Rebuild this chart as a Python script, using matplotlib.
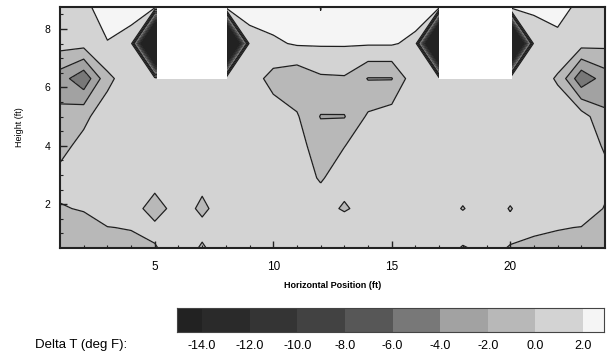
import matplotlib
matplotlib.use("Agg")
import matplotlib.pyplot as plt
import numpy as np
from matplotlib.colors import ListedColormap, BoundaryNorm
from matplotlib.patches import Rectangle

plt.rcParams['font.family'] = ['Liberation Sans', 'DejaVu Sans']

# measurement grid (ft)
x_pos = [1, 2, 3, 4, 5, 6, 7, 8, 9, 10, 11, 12, 13, 14, 15, 16, 17, 18, 19, 20, 21, 22, 23, 24]
y_pos = [0.5, 1.2, 1.85, 2.9, 4.0, 5.0, 6.3, 7.5, 8.75]

# delta T (deg F), one row per height
dt_050 = [-1.2, -1.0, -0.8, -0.6, -0.15, 1.0, -0.2, 1.0, 1.0, 1.0, 1.0, 1.0, 1.0, 1.0, 1.0, 1.0, 1.0, -0.15, 0.5, -0.1, -0.4, -0.6, -0.9, -1.2]
dt_120 = [-0.8, -0.5, -0.05, 0.1, 0.5, 1.0, 0.5, 1.0, 1.0, 1.0, 1.0, 1.0, 1.5, 1.0, 1.0, 1.0, 1.0, 1.0, 1.0, 0.5, 0.3, 0.1, -0.05, -0.8]
dt_185 = [-0.1, 0.1, 1.0, 1.0, -1.0, 1.0, -0.4, 1.0, 1.0, 1.0, 1.0, 1.0, -0.3, 1.0, 1.0, 1.0, 1.0, -0.1, 1.0, -0.1, 1.0, 1.0, 1.0, -0.1]
dt_290 = [0.45, 1.0, 1.0, 1.0, 1.0, 1.0, 0.6, 1.0, 1.0, 1.0, 1.0, -0.2, 1.0, 1.0, 1.0, 1.0, 1.0, 1.0, 1.0, 1.0, 1.0, 1.0, 1.0, 0.5]
dt_400 = [-0.5, 0.5, 1.0, 1.0, 1.0, 1.0, 1.0, 1.0, 1.0, 1.0, 0.6, -0.8, -0.05, 1.0, 1.0, 1.0, 1.0, 1.0, 1.0, 1.0, 1.0, 1.0, 1.0, -0.2]
dt_500 = [-1.5, -0.4, 1.0, 1.0, 1.0, 1.0, 1.0, 1.0, 1.0, 1.0, 0.2, -2.1, -2.1, 0.3, 1.0, 1.0, 1.0, 1.0, 1.0, 1.0, 1.0, 1.0, 1.0, -1.7]
dt_630 = [-3.0, -5.5, -0.5, 1.2, 1.0, 1.0, 1.0, 1.0, 1.0, -0.7, -1.4, -0.3, -0.2, -2.1, -2.1, 1.5, 1.0, 1.0, 1.0, 1.0, 1.0, -0.2, -5.5, -3.0]
dt_750 = [0.8, 0.8, 1.9, 1.0, -40, -40, -40, -40, 1.0, 1.7, 2.2, 2.2, 2.2, 2.2, 2.2, 1.5, -40, -40, -40, -40, 1.0, 1.2, 0.8, 0.5]
dt_875 = [1.0, 1.5, 3.0, 3.0, 3.0, 3.0, 3.0, 3.0, 3.0, 3.0, 3.0, 1.98, 3.0, 3.0, 3.0, 3.0, 3.0, 3.0, 3.0, 3.0, 2.3, 3.0, 1.3, 1.0]

# obstacles (x from, x to), blanked from this height up
obstacles = [(5.1, 8.05), (17.0, 20.07)]
obstacle_bottom = 6.3

levels = [-16, -14, -12, -10, -8, -6, -4, -2, 0, 2, 4]
line_levels = [-4, -2, 0, 2]
tick_vals = [-14, -12, -10, -8, -6, -4, -2, 0, 2]
grays = ['#222222', '#2a2a2a', '#343434', '#424242', '#575757',
         '#787878', '#a2a2a2', '#b8b8b8', '#d3d3d3', '#f5f5f5']

Z = np.array([dt_050, dt_120, dt_185, dt_290, dt_400, dt_500, dt_630, dt_750, dt_875])
X, Y = np.meshgrid(x_pos, y_pos)

cmap = ListedColormap(grays)
cmap.set_under(grays[0])
cmap.set_over(grays[-1])
norm = BoundaryNorm(levels, cmap.N)

fig = plt.figure(figsize=(6.07, 3.6), dpi=100)
ax = fig.add_axes([60/607, 1 - 248/360, 545/607, 241/360])

ax.contourf(X, Y, Z, levels=levels, cmap=cmap, norm=norm, extend='both', antialiased=False)
ax.contour(X, Y, Z, levels=line_levels, colors='#1e1e1e', linewidths=0.9, linestyles='solid')

for x0, x1 in obstacles:
    ax.add_patch(Rectangle((x0, obstacle_bottom), x1 - x0, 3, facecolor='white',
                           edgecolor='none', zorder=5))

ax.set_xlim(1, 24)
ax.set_ylim(0.5, 8.75)
ax.set_xticks([5, 10, 15, 20])
ax.set_yticks([2, 4, 6, 8])
ax.set_xticks(np.arange(2, 24), minor=True)
ax.set_yticks(np.arange(1, 8.75, 0.5), minor=True)
ax.tick_params(which='both', direction='in', color='#222222')
ax.tick_params(which='major', length=5, width=1)
ax.tick_params(which='minor', length=2.5, width=0.8)
ax.tick_params(axis='x', labelsize=8.5, pad=9)
ax.tick_params(axis='y', labelsize=7.5, pad=7)
for s in ax.spines.values():
    s.set_linewidth(1.5)
    s.set_color('#222222')
    s.set_zorder(6)

ax.set_xlabel('Horizontal Position (ft)', fontsize=6.5, fontweight='bold', labelpad=6)
ax.set_ylabel('Height (ft)', fontsize=6.5, labelpad=15)

# colour key
cax = fig.add_axes([177/607, 1 - 332/360, 427/607, 24/360])
mids = [(a + b) / 2 for a, b in zip(levels[:-1], levels[1:])]
cax.pcolormesh(levels, [0, 1], [mids], cmap=cmap, norm=norm)
cax.set_xlim(-15.05, 2.88)
cax.set_ylim(0, 1)
cax.set_yticks([])
cax.set_xticks(tick_vals)
cax.set_xticklabels(['%.1f' % v for v in tick_vals], fontsize=9)
cax.tick_params(axis='x', length=0, pad=6)
for s in cax.spines.values():
    s.set_linewidth(0.8)
    s.set_color('#444444')

fig.text(35/607, 1 - 345/360, 'Delta T (deg F):', fontsize=9.5, va='center')

fig.savefig('out.png', dpi=100)
